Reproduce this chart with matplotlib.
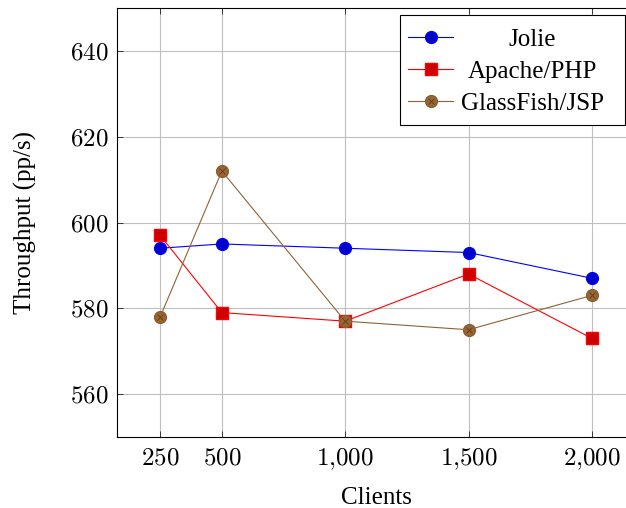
import numpy as np
import matplotlib.pyplot as plt
from matplotlib.lines import Line2D
from matplotlib.patches import Rectangle
from matplotlib.transforms import Affine2D

plt.rcParams['font.family'] = 'Liberation Serif'
plt.rcParams['mathtext.fontset'] = 'cm'

clients = [250, 500, 1000, 1500, 2000]
jolie = [594, 595, 594, 593, 587]
apache = [597, 579, 577, 588, 573]
glassfish = [578, 612, 577, 575, 583]
xtick_labels = [r'$250$', r'$500$', r'$1{,}000$', r'$1{,}500$', r'$2{,}000$']
yticks = [560, 580, 600, 620, 640]

fig = plt.figure(figsize=(6.26, 5.08), dpi=100)
ax = fig.add_axes([117/626, 1 - 437/508, (635 - 117)/626, (437 - 8)/508])

ax.plot(clients, jolie, color='#0000ff', lw=0.8, marker='o', ms=8.5,
        mfc='#0000cc', mec='#0000ff', label='Jolie', zorder=3)
ax.plot(clients, apache, color='#ff0000', lw=0.8, marker='s', ms=8,
        mfc='#cc0000', mec='#ff0000', label='Apache/PHP', zorder=3)
ax.plot(clients, glassfish, color='#8f6236', lw=0.8, marker='o', ms=8.5,
        mfc='#996633', mec='#8a5c2e', zorder=4)
ax.plot(clients, glassfish, lw=0, marker='x', ms=5, mec='#5a3c1e', mew=0.6, zorder=5)

# legend entry for the brown series (circle with a cross)
h1, l1 = ax.get_legend_handles_labels()
gf1 = Line2D([], [], color='#8f6236', lw=0.8, marker='o', ms=8.5, mfc='#996633', mec='#8a5c2e')
gf2 = Line2D([], [], lw=0, marker='x', ms=5, mec='#5a3c1e', mew=0.6)
leg = ax.legend(h1 + [(gf1, gf2)], l1 + ['GlassFish/JSP'], loc='upper left',
                bbox_to_anchor=(408/626, 1 - 28/508), bbox_transform=fig.transFigure,
                fontsize=18, frameon=False, borderaxespad=0, borderpad=0,
                handlelength=1.8, labelspacing=0.39, handletextpad=0.3)
leg.set_zorder(7)
# legend frame drawn by hand (pgfplots style padding)
ax.add_patch(Rectangle((400/626, 1 - 125/508), 225/626, 110/508,
                       transform=fig.transFigure, facecolor='white',
                       edgecolor='black', lw=0.8, zorder=6, clip_on=False))

ax.set_xlim(75, 2175)
ax.set_ylim(550, 650)
ax.set_xticks(clients)
ax.set_xticklabels(xtick_labels)
ax.set_yticks(yticks)
ax.set_yticklabels([r'$%d$' % v for v in yticks])
ax.tick_params(direction='in', labelsize=18, length=4, width=0.5, colors='black',
               top=True, right=True)
ax.tick_params(axis='x', pad=20)
ax.tick_params(axis='y', pad=6)
plt.setp(ax.get_xticklabels(), va='baseline')
ax.grid(True, color='#bfbfbf', lw=0.8)
ax.set_axisbelow(True)
for s in ax.spines.values():
    s.set_linewidth(0.8)

ax.set_xlabel('Clients', fontsize=18, labelpad=11)
ax.set_ylabel('Throughput (pp/s)', fontsize=18, labelpad=24)

# centre the legend texts in their column, like pgfplots does
fig.canvas.draw()
r = fig.canvas.get_renderer()
widths = [t.get_window_extent(r).width for t in leg.get_texts()]
wmax = max(widths)
for t, w in zip(leg.get_texts(), widths):
    t.set_transform(t.get_transform() + Affine2D().translate((wmax - w) / 2, 0))

fig.savefig('out.png', dpi=100)
